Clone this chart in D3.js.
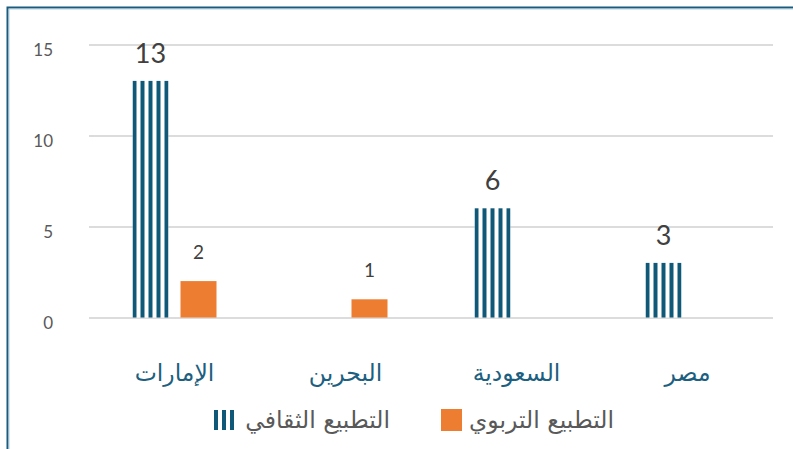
<!DOCTYPE html>
<html><head><meta charset="utf-8">
<script src="https://cdn.jsdelivr.net/npm/d3@7"></script>
<style>body{margin:0;background:#fff}svg{display:block}</style>
</head><body><svg id="c" width="793" height="449"></svg>
<script>
const categories = ["الإمارات", "البحرين", "السعودية", "مصر"];
const seriesNames = ["التطبيع الثقافي", "التطبيع التربوي"];
const culturalValues = [13, 0, 6, 3];
const educationalValues = [2, 1, 0, 0];
const yTicks = [0, 5, 10, 15];

const svg = d3.select("#c");
const teal = "#0f5878", orange = "#ED7D31";
const x0 = d3.scaleBand().domain(categories).range([89, 773]);
const x1 = d3.scaleBand().domain(seriesNames).range([-42, 42]).paddingInner(0.25);
const y = d3.scaleLinear().domain([0, 15]).range([317.5, 44.5]);

// frame
svg.append("rect").attr("x", 7.5).attr("y", 7.5).attr("width", 900).attr("height", 600)
  .attr("fill", "none").attr("stroke", "#1b5b7c").attr("stroke-width", 2);
svg.append("rect").attr("x", 9).attr("y", 9).attr("width", 900).attr("height", 600)
  .attr("fill", "none").attr("stroke", "#9fc3da").attr("stroke-width", 0.8);

// grid
const yAxis = d3.axisLeft(y).tickValues(yTicks).tickSize(-(773 - 89)).tickPadding(36);
const gy = svg.append("g").attr("transform", "translate(89,0)").call(yAxis);
gy.select(".domain").remove();
gy.selectAll(".tick line").attr("stroke", "#dcdcdc").attr("stroke-width", 2);
gy.selectAll(".tick text").attr("fill", "#595959").attr("font-size", 17)
  .attr("font-family", "Lato, 'DejaVu Sans', sans-serif").attr("dy", "0.65em");

const defs = svg.append("defs");
function stripePattern(id, xOff, yOff) {
  const p = defs.append("pattern").attr("id", id).attr("patternUnits", "userSpaceOnUse")
    .attr("x", xOff).attr("y", yOff).attr("width", 8).attr("height", 8);
  p.append("rect").attr("width", 8).attr("height", 8).attr("fill", "#fff");
  p.append("rect").attr("width", 4).attr("height", 8).attr("fill", teal);
}

const rows = categories.map((c, i) => ({c, vals: [culturalValues[i], educationalValues[i]]}));
const g = svg.append("g");
rows.forEach((r, i) => {
  r.vals.forEach((v, k) => {
    if (!v) return;
    const s = seriesNames[k];
    const bx = x0(r.c) + x0.bandwidth() / 2 + x1(s);
    const bw = x1.bandwidth();
    let fill = orange;
    if (k === 0) { stripePattern("p" + i, bx, 0); fill = "url(#p" + i + ")"; }
    g.append("rect").attr("x", bx).attr("y", y(v)).attr("width", bw)
      .attr("height", y(0) - y(v)).attr("fill", fill);
    g.append("text").attr("x", bx + bw / 2).attr("y", y(v) - (k === 0 ? 18 : 22))
      .attr("text-anchor", "middle").attr("fill", "#404040")
      .attr("font-family", "Lato, 'DejaVu Sans', sans-serif")
      .attr("font-size", k === 0 ? 27 : 19).text(v);
  });
});

// category axis labels
const xAxis = d3.axisBottom(x0).tickSize(0).tickPadding(0);
const gx = svg.append("g").attr("transform", "translate(0,381)").call(xAxis);
gx.select(".domain").remove();
gx.selectAll(".tick text").attr("fill", "#1d5f80").attr("font-size", 23.5)
  .attr("font-family", "'DejaVu Sans', sans-serif").attr("dy", 0);

// legend
stripePattern("pl", 214, 0);
const leg = svg.append("g");
leg.append("rect").attr("x", 214).attr("y", 410).attr("width", 23).attr("height", 20).attr("fill", "url(#pl)");
leg.append("text").attr("x", 390).attr("y", 428).attr("text-anchor", "end").attr("fill", "#595959")
  .attr("font-size", 23.5).attr("font-family", "'DejaVu Sans', sans-serif").text(seriesNames[0]);
leg.append("rect").attr("x", 441).attr("y", 409).attr("width", 21).attr("height", 22).attr("fill", orange);
leg.append("text").attr("x", 614).attr("y", 428).attr("text-anchor", "end").attr("fill", "#595959")
  .attr("font-size", 23.5).attr("font-family", "'DejaVu Sans', sans-serif").text(seriesNames[1]);
</script></body></html>
